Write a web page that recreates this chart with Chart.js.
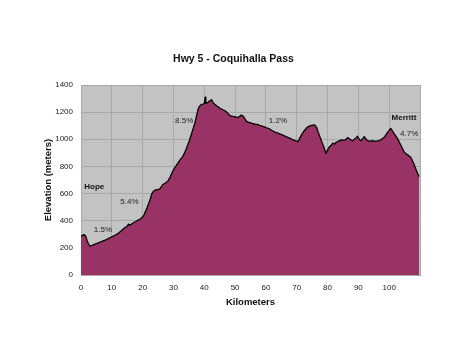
<!DOCTYPE html>
<html>
<head>
<meta charset="utf-8">
<script src="https://cdn.jsdelivr.net/npm/chart.js@4/dist/chart.umd.min.js"></script>
<style>
  html, body { margin: 0; padding: 0; background: #ffffff; }
  #wrap { width: 467px; height: 360px; }
</style>
</head>
<body>
<div id="wrap"><canvas id="c" width="467" height="360"></canvas></div>
<script>
// Distance along the highway (km)
const kilometers = [0,0.5,1,1.5,2,2.5,3,4,5,6,7,8,9,10,11,12,13,14,15,15.4,16,17,18,19,19.7,20.5,21.5,22.4,23,23.5,24,25,25.6,26.5,27.5,28.3,29,30,31,32,33,34,35,35.3,36,37,38,38.5,39,39.6,40,40.3,40.5,41,41.8,42.4,43,44,45,46,46.7,47.5,48.3,49.3,50,51,52,52.6,53.2,53.7,54.5,55.5,56.5,57.4,58.5,59.5,60.2,61.2,62,63,63.4,64.5,65.5,66.5,67.5,68.5,69.5,70.4,71,71.5,72.5,73.6,74.5,75.2,75.8,76.5,77,78,79,79.5,80,80.6,81.2,81.7,82.3,82.8,83.8,84.5,85.5,86.5,87.3,88.1,89,89.7,90.3,90.8,91.4,91.9,92.7,93.5,94.5,95.5,96.8,97.5,98.4,99.3,100.5,101.5,102.7,103.8,104.9,106,107,108,109,109.7];
// Elevation (m)
const elevation = [285,292,298,288,252,226,212,222,232,240,250,258,270,282,293,305,325,345,360,375,368,385,398,410,420,445,500,555,600,617,625,630,635,665,680,695,725,775,810,845,872,920,980,1000,1050,1124,1222,1245,1255,1259,1262,1310,1265,1270,1284,1291,1265,1247,1230,1218,1210,1195,1175,1168,1165,1160,1178,1170,1150,1132,1125,1118,1112,1108,1098,1092,1085,1076,1065,1052,1049,1040,1030,1020,1010,1000,990,982,1010,1030,1065,1092,1100,1105,1106,1085,1050,990,930,895,920,945,955,972,965,978,988,995,992,1012,1000,988,1005,1022,1000,988,1005,1020,995,985,990,985,990,1000,1015,1045,1080,1045,1005,955,905,885,868,820,760,725];

// Axis ticks
const xTicks = [0,10,20,30,40,50,60,70,80,90,100];
const yTicks = [0,200,400,600,800,1000,1200,1400];

// Text annotations on the profile
const noteTexts = ["Hope","1.5%","5.4%","8.5%","1.2%","Merritt","4.7%"];
const noteKm    = [4.3, 7.1, 15.7, 33.5, 63.9, 104.8, 106.5];
const noteElev  = [650, 333, 543, 1136, 1136, 1156, 1037];
const noteBold  = [true,false,false,false,false,true,false];

const FONT = "'Liberation Sans', Arial, Helvetica, sans-serif";

const bgPlugin = {
  id: 'plotBg',
  beforeDraw(chart) {
    const {ctx, chartArea: a} = chart;
    ctx.save();
    ctx.fillStyle = '#c3c3c3';
    ctx.fillRect(a.left, a.top, a.right - a.left, a.bottom - a.top);
    ctx.restore();
  }
};

const notesPlugin = {
  id: 'notes',
  afterDatasetsDraw(chart) {
    const {ctx, scales} = chart;
    ctx.save();
    ctx.textAlign = 'center';
    ctx.textBaseline = 'middle';
    for (let i = 0; i < noteTexts.length; i++) {
      ctx.font = (noteBold[i] ? 'bold ' : '') + '8px ' + FONT;
      ctx.fillStyle = noteBold[i] ? '#111' : '#222';
      ctx.fillText(noteTexts[i], scales.x.getPixelForValue(noteKm[i]), scales.y.getPixelForValue(noteElev[i]));
    }
    ctx.restore();
  }
};

new Chart(document.getElementById('c'), {
  type: 'line',
  data: {
    datasets: [{
      label: 'Elevation',
      data: kilometers.map((k, i) => ({x: k, y: elevation[i]})),
      fill: 'origin',
      backgroundColor: '#993366',
      borderColor: '#000000',
      borderWidth: 1.3,
      borderJoinStyle: 'round',
      pointRadius: 0,
      tension: 0,
      yAxisID: 'y'
    }]
  },
  plugins: [bgPlugin, notesPlugin],
  options: {
    responsive: false,
    animation: false,
    layout: { padding: 0 },
    plugins: {
      legend: { display: false },
      tooltip: { enabled: false },
      title: {
        display: true,
        text: 'Hwy 5 - Coquihalla Pass',
        color: '#111',
        font: { family: FONT, size: 10.5, weight: 'bold' },
        padding: { top: 52.7, bottom: 19.7 }
      }
    },
    scales: {
      x: {
        type: 'linear',
        min: 0,
        max: 110,
        afterBuildTicks(s) { s.ticks = xTicks.concat([110]).map(v => ({value: v})); },
        afterFit(s) { s.height = 85; },
        ticks: {
          padding: 7.5,
          color: '#222',
          font: { family: FONT, size: 8 },
          maxRotation: 0,
          autoSkip: false,
          callback: (v) => (xTicks.includes(v) ? String(v) : '')
        },
        grid: { color: '#a8a8a8', lineWidth: 1, drawTicks: false },
        border: { color: '#a8a8a8' },
        title: {
          display: true,
          text: 'Kilometers',
          color: '#111',
          font: { family: FONT, size: 9.5, weight: 'bold' },
          padding: { top: 0, bottom: 52 }
        }
      },
      y: {
        min: 0,
        max: 1400,
        afterBuildTicks(s) { s.ticks = yTicks.map(v => ({value: v})); },
        afterFit(s) { s.width = 81; },
        ticks: {
          padding: 8,
          color: '#222',
          font: { family: FONT, size: 8 },
          callback: (v) => String(v)
        },
        grid: { color: '#a8a8a8', lineWidth: 1, drawTicks: false },
        border: { color: '#a8a8a8' },
        title: {
          display: true,
          text: 'Elevation (meters)',
          color: '#111',
          font: { family: FONT, size: 9.5, weight: 'bold' },
          padding: { top: 42.3, bottom: 0 }
        }
      },
      yRight: {
        position: 'right',
        display: true,
        min: 0,
        max: 1400,
        afterFit(s) { s.width = 47; },
        ticks: { display: false },
        grid: { display: false, drawTicks: false },
        border: { display: false },
        title: { display: false }
      }
    }
  }
});
</script>
</body>
</html>
